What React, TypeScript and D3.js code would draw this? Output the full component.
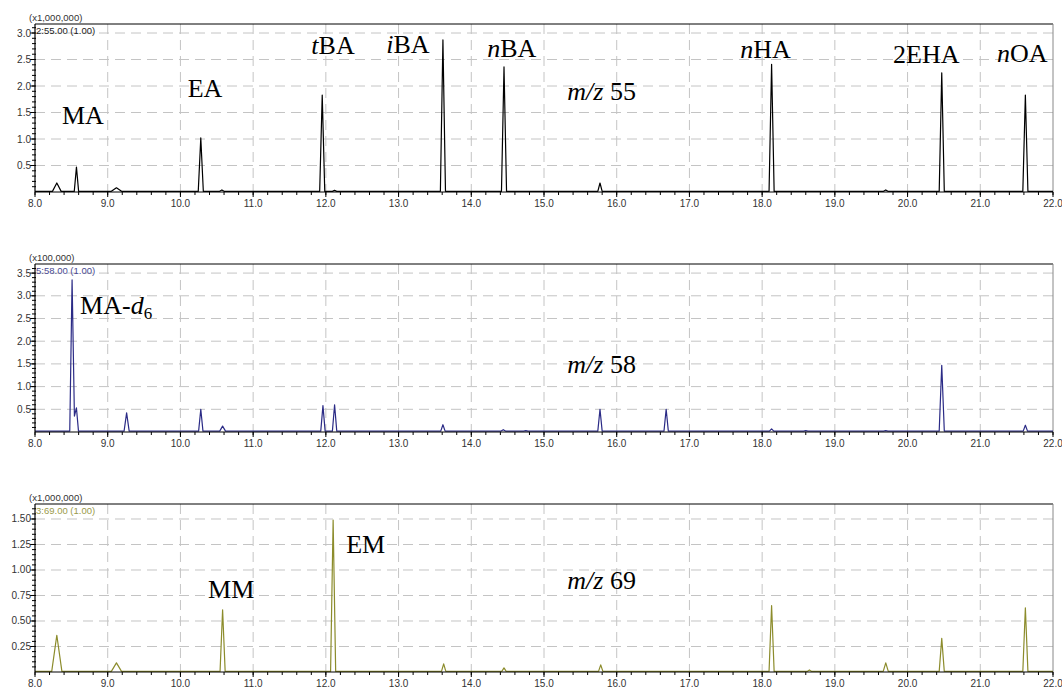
import React from "react";
import * as d3 from "d3";

// Retention time axis (min)
const timeDomain: [number, number] = [8, 22];
const timeTicks = d3.range(8, 22.001, 1);
const timeMinorTicks = d3.range(8, 22.001, 0.2);

// Peaks: [retention time, height, half width, left foot level?, right foot level?]
type Peak = [number, number, number, number?, number?];

// m/z 55 (x1,000,000)
const peaksMz55: Peak[] = [
  [8.3, 0.17, 0.06],
  [8.57, 0.47, 0.03],
  [9.12, 0.08, 0.07],
  [10.28, 1.02, 0.035],
  [10.57, 0.04, 0.03],
  [11.95, 1.83, 0.035],
  [12.12, 0.03, 0.03],
  [13.61, 2.87, 0.035],
  [14.45, 2.36, 0.035],
  [15.77, 0.17, 0.03],
  [18.13, 2.41, 0.035],
  [19.7, 0.04, 0.03],
  [20.47, 2.25, 0.035],
  [21.62, 1.83, 0.035],
];

// m/z 58 (x100,000)
const peaksMz58: Peak[] = [
  [8.51, 3.35, 0.032, 0.02, 0.35],
  [8.57, 0.53, 0.028, 0.35, 0.02],
  [9.26, 0.42, 0.035],
  [10.28, 0.5, 0.03],
  [10.58, 0.13, 0.04],
  [11.96, 0.58, 0.03],
  [12.12, 0.6, 0.03],
  [13.61, 0.16, 0.03],
  [14.44, 0.05, 0.03],
  [14.75, 0.03, 0.03],
  [15.77, 0.5, 0.03],
  [16.68, 0.5, 0.03],
  [18.13, 0.07, 0.03],
  [18.6, 0.03, 0.03],
  [19.7, 0.03, 0.03],
  [20.47, 1.47, 0.035],
  [21.62, 0.15, 0.03],
];

// m/z 69 (x1,000,000)
const peaksMz69: Peak[] = [
  [8.3, 0.36, 0.07],
  [9.12, 0.09, 0.07],
  [10.58, 0.61, 0.035],
  [12.1, 1.49, 0.035],
  [13.62, 0.08, 0.03],
  [14.45, 0.04, 0.03],
  [15.78, 0.07, 0.03],
  [18.13, 0.65, 0.035],
  [18.65, 0.02, 0.03],
  [19.7, 0.09, 0.035],
  [20.47, 0.33, 0.035],
  [21.62, 0.63, 0.035],
];

const yTicksMz55 = [0.5, 1.0, 1.5, 2.0, 2.5, 3.0];
const yTicksMz58 = [0.5, 1.0, 1.5, 2.0, 2.5, 3.0, 3.5];
const yTicksMz69 = [0.25, 0.5, 0.75, 1.0, 1.25, 1.5];

type Label = { text: React.ReactNode; t: number; v: number };

const labelsMz55: Label[] = [
  { text: "MA", t: 8.37, v: 1.29 },
  { text: "EA", t: 10.1, v: 1.8 },
  { text: <><tspan fontStyle="italic">t</tspan>BA</>, t: 11.8, v: 2.6 },
  { text: <><tspan fontStyle="italic">i</tspan>BA</>, t: 12.83, v: 2.63 },
  { text: <><tspan fontStyle="italic">n</tspan>BA</>, t: 14.22, v: 2.55 },
  { text: <><tspan fontStyle="italic">m/z</tspan> 55</>, t: 15.32, v: 1.74 },
  { text: <><tspan fontStyle="italic">n</tspan>HA</>, t: 17.7, v: 2.53 },
  { text: "2EHA", t: 19.8, v: 2.44 },
  { text: <><tspan fontStyle="italic">n</tspan>OA</>, t: 21.23, v: 2.46 },
];

const labelsMz58: Label[] = [
  { text: <>MA-<tspan fontStyle="italic">d</tspan><tspan fontSize="17" dy="5">6</tspan></>, t: 8.62, v: 2.6 },
  { text: <><tspan fontStyle="italic">m/z</tspan> 58</>, t: 15.32, v: 1.3 },
];

const labelsMz69: Label[] = [
  { text: "MM", t: 10.38, v: 0.73 },
  { text: "EM", t: 12.28, v: 1.17 },
  { text: <><tspan fontStyle="italic">m/z</tspan> 69</>, t: 15.32, v: 0.81 },
];

type PanelDef = {
  top: number;
  yMax: number;
  yTicks: number[];
  minorStep: number;
  decimals: number;
  scaleLabel: string;
  traceLabel: string;
  color: string;
  textColor: string;
  base: number;
  peaks: Peak[];
  labels: Label[];
};

const panels: PanelDef[] = [
  {
    top: 24, yMax: 3.17, yTicks: yTicksMz55, minorStep: 0.1, decimals: 1,
    scaleLabel: "(x1,000,000)", traceLabel: "2:55.00 (1.00)",
    color: "#000000", textColor: "#222222", base: 0.012,
    peaks: peaksMz55, labels: labelsMz55,
  },
  {
    top: 264, yMax: 3.7, yTicks: yTicksMz58, minorStep: 0.1, decimals: 1,
    scaleLabel: "(x100,000)", traceLabel: "5:58.00 (1.00)",
    color: "#2b2b86", textColor: "#4a4a92", base: 0.02,
    peaks: peaksMz58, labels: labelsMz58,
  },
  {
    top: 504, yMax: 1.647, yTicks: yTicksMz69, minorStep: 0.05, decimals: 2,
    scaleLabel: "(x1,000,000)", traceLabel: "3:69.00 (1.00)",
    color: "#8c8c2c", textColor: "#9a9a4a", base: 0.006,
    peaks: peaksMz69, labels: labelsMz69,
  },
];

const left = 35;
const right = 1053;
const plotH = 168;
const sans = "'Liberation Sans', Arial, sans-serif";
const serif = "'Liberation Serif', 'Times New Roman', serif";

function tracePoints(peaks: Peak[], base: number): [number, number][] {
  const pts: [number, number][] = [[timeDomain[0], base]];
  peaks.forEach(([rt, h, w, fl, fr]) => {
    pts.push([rt - w, fl ?? base], [rt, h], [rt + w, fr ?? base]);
  });
  pts.push([timeDomain[1], base]);
  return pts;
}

function Panel({ p }: { p: PanelDef }) {
  const x = d3.scaleLinear().domain(timeDomain).range([left, right]);
  const y = d3.scaleLinear().domain([0, p.yMax]).range([p.top + plotH, p.top]);
  const bottom = p.top + plotH;
  const line = d3
    .line<[number, number]>()
    .x((d) => x(d[0]))
    .y((d) => y(d[1]));
  const minorY = d3.range(p.minorStep, p.yMax, p.minorStep);
  const fmt = d3.format(`.${p.decimals}f`);
  return (
    <g>
      {/* grid */}
      {timeTicks.slice(1, -1).map((t) => (
        <line key={`gx${t}`} x1={x(t)} x2={x(t)} y1={p.top} y2={bottom}
          stroke="#c4c4c4" strokeWidth={1} strokeDasharray="10,6" />
      ))}
      {p.yTicks.map((v) => (
        <line key={`gy${v}`} x1={left} x2={right} y1={y(v)} y2={y(v)}
          stroke="#c4c4c4" strokeWidth={1} strokeDasharray="10,6" />
      ))}
      {/* frame */}
      <line x1={left} x2={right} y1={p.top} y2={p.top} stroke="#000" strokeWidth={1} />
      <line x1={right} x2={right} y1={p.top} y2={bottom} stroke="#888" strokeWidth={1} />
      {/* trace */}
      <path d={line(tracePoints(p.peaks, p.base)) ?? ""} fill="none"
        stroke={p.color} strokeWidth={1.2} strokeLinejoin="round" />
      <line x1={left} x2={right} y1={bottom} y2={bottom} stroke="#000" strokeWidth={1.2} />
      <line x1={left} x2={left} y1={p.top} y2={bottom} stroke="#000" strokeWidth={1.2} />
      {/* x ticks */}
      {timeMinorTicks.map((t) => (
        <line key={`mx${t}`} x1={x(t)} x2={x(t)} y1={bottom} y2={bottom + 3}
          stroke="#000" strokeWidth={1} />
      ))}
      {timeTicks.map((t) => (
        <g key={`tx${t}`}>
          <line x1={x(t)} x2={x(t)} y1={bottom} y2={bottom + 5} stroke="#000" strokeWidth={1} />
          <text x={x(t)} y={bottom + 15} textAnchor="middle" fontFamily={sans}
            fontSize={10} fill="#333">{d3.format(".1f")(t)}</text>
        </g>
      ))}
      {/* y ticks */}
      {minorY.map((v) => (
        <line key={`my${v}`} x1={left - 3} x2={left + 1} y1={y(v)} y2={y(v)}
          stroke="#000" strokeWidth={1} />
      ))}
      {p.yTicks.map((v) => (
        <g key={`ty${v}`}>
          <line x1={left - 5} x2={left} y1={y(v)} y2={y(v)} stroke="#000" strokeWidth={1} />
          <text x={left - 4} y={y(v) + 3.5} textAnchor="end" fontFamily={sans}
            fontSize={10} fill="#333">{fmt(v)}</text>
        </g>
      ))}
      <text x={29} y={p.top - 3} fontFamily={sans} fontSize={9.5} fill="#333">{p.scaleLabel}</text>
      <text x={left + 1} y={p.top + 10} fontFamily={sans} fontSize={9.5} fill={p.textColor}>{p.traceLabel}</text>
      {/* compound labels */}
      {p.labels.map((l, i) => (
        <text key={i} x={x(l.t)} y={y(l.v)} fontFamily={serif} fontSize={26} fill="#000">{l.text}</text>
      ))}
    </g>
  );
}

export default function App() {
  return (
    <svg width={1062} height={689} style={{ position: "absolute", left: 0, top: 0, background: "#fff" }}>
      <rect width={1062} height={689} fill="#fff" />
      {panels.map((p, i) => (
        <Panel key={i} p={p} />
      ))}
    </svg>
  );
}
